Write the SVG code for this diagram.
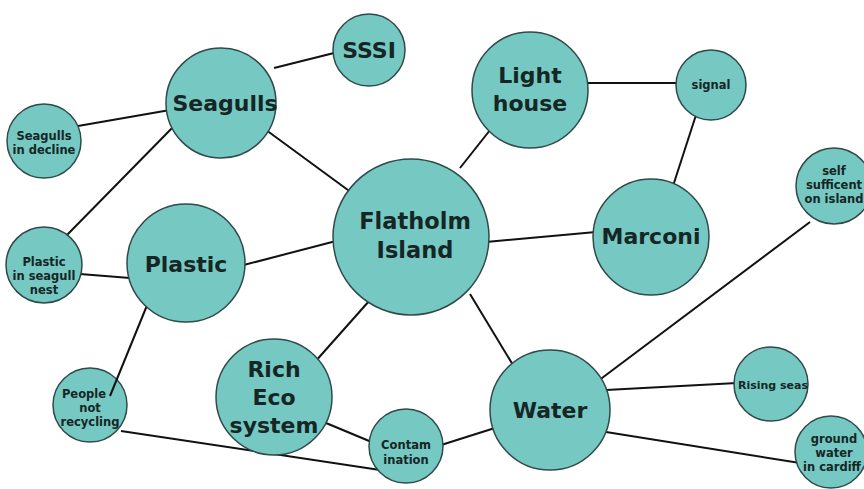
<svg xmlns="http://www.w3.org/2000/svg" width="864" height="489" viewBox="0 0 864 489">
<style>
.n{fill:#76c8c3;stroke:#2f4a48;stroke-width:1.5}
.c line{stroke:#111;stroke-width:2}
text{font-family:"DejaVu Sans","Open Sans",sans-serif;font-weight:700;fill:#152624;text-anchor:middle}
.b{font-size:22.5px}
.m{font-size:22px}
.s{font-size:11.5px}
</style>
<rect width="864" height="489" fill="#fff"/>
<g id="people"><circle class="n" cx="90" cy="405" r="37"/><text class="s" x="84" y="398">People</text><text class="s" x="90" y="412">not</text><text class="s" x="90" y="426">recycling</text></g>
<g class="c" id="connectors">
<line x1="274" y1="68" x2="334" y2="53"/>
<line x1="78" y1="126" x2="170" y2="110"/>
<line x1="262" y1="127" x2="352" y2="193"/>
<line x1="176" y1="124" x2="66" y2="236"/>
<line x1="80" y1="274" x2="130" y2="278"/>
<line x1="240" y1="266" x2="336" y2="241"/>
<line x1="150" y1="298" x2="110" y2="396"/>
<line x1="121" y1="431" x2="380" y2="470"/>
<line x1="326" y1="423" x2="374" y2="443"/>
<line x1="438" y1="446" x2="498" y2="427"/>
<line x1="370" y1="300" x2="314" y2="363"/>
<line x1="470" y1="294" x2="516" y2="370"/>
<line x1="460" y1="168" x2="498" y2="120"/>
<line x1="585" y1="83" x2="678" y2="83"/>
<line x1="696" y1="115" x2="673" y2="186"/>
<line x1="486" y1="242" x2="596" y2="232"/>
<line x1="598" y1="381" x2="810" y2="222"/>
<line x1="606" y1="390" x2="737" y2="383"/>
<line x1="606" y1="432" x2="800" y2="463"/>
</g>
<g id="flatholm"><circle class="n" cx="411" cy="237" r="78"/><text class="b" x="415" y="229">Flatholm</text><text class="b" x="415" y="258">Island</text></g>
<g id="seagulls"><circle class="n" cx="221" cy="103" r="55"/><text class="m" x="225" y="111">Seagulls</text></g>
<g id="sssi"><circle class="n" cx="369" cy="50" r="36"/><text class="m" x="369" y="58">SSSI</text></g>
<g id="lighthouse"><circle class="n" cx="530" cy="90" r="58"/><text class="m" x="530" y="83">Light</text><text class="m" x="530" y="111">house</text></g>
<g id="signal"><circle class="n" cx="711" cy="85" r="35"/><text class="s" x="711" y="89">signal</text></g>
<g id="marconi"><circle class="n" cx="651" cy="237" r="58"/><text class="m" x="651" y="244">Marconi</text></g>
<g id="selfsufficent"><circle class="n" cx="834" cy="186" r="38"/><text class="s" x="834" y="175">self</text><text class="s" x="834" y="189">sufficent</text><text class="s" x="834" y="203">on island</text></g>
<g id="seagullsdecline"><circle class="n" cx="44" cy="141" r="37"/><text class="s" x="44" y="140">Seagulls</text><text class="s" x="44" y="154">in decline</text></g>
<g id="plasticnest"><circle class="n" cx="44" cy="265" r="38"/><text class="s" x="44" y="266">Plastic</text><text class="s" x="44" y="280">in seagull</text><text class="s" x="44" y="294">nest</text></g>
<g id="plastic"><circle class="n" cx="186" cy="263" r="59"/><text class="m" x="186" y="272">Plastic</text></g>
<g id="richeco"><circle class="n" cx="274" cy="397" r="58"/><text class="m" x="274" y="377">Rich</text><text class="m" x="274" y="405">Eco</text><text class="m" x="274" y="433">system</text></g>
<g id="contamination"><circle class="n" cx="406" cy="446" r="37"/><text class="s" x="406" y="449">Contam</text><text class="s" x="406" y="464">ination</text></g>
<g id="water"><circle class="n" cx="550" cy="410" r="60"/><text class="m" x="550" y="418">Water</text></g>
<g id="risingseas"><circle class="n" cx="771" cy="384" r="37"/><text class="s" x="773" y="389" style="font-size:11px">Rising seas</text></g>
<g id="groundwater"><circle class="n" cx="831" cy="452" r="36"/><text class="s" x="834" y="443">ground</text><text class="s" x="834" y="457">water</text><text class="s" x="832" y="471">in cardiff</text></g>
</svg>
